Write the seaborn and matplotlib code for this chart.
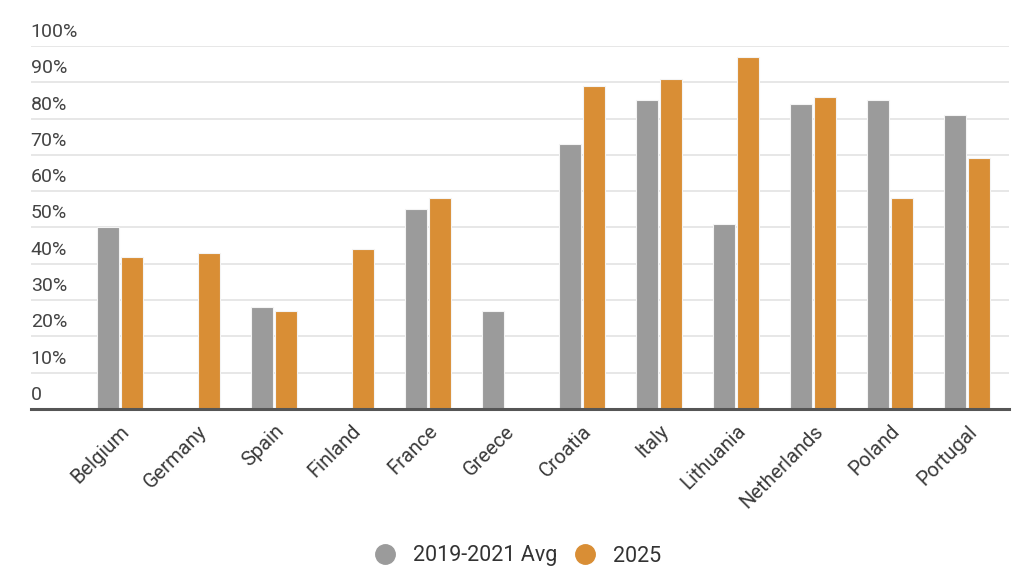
import numpy as np
import pandas as pd
import seaborn as sns
import matplotlib.pyplot as plt
import matplotlib.transforms as mtransforms
from matplotlib.lines import Line2D

countries = ['Belgium', 'Germany', 'Spain', 'Finland', 'France', 'Greece',
             'Croatia', 'Italy', 'Lithuania', 'Netherlands', 'Poland', 'Portugal']
avg_2019_2021 = [50, np.nan, 28, np.nan, 55, 27, 73, 85, 51, 84, 85, 81]
val_2025 = [42, 43, 27, 44, 58, np.nan, 89, 91, 97, 86, 58, 69]
series = ['2019-2021 Avg', '2025']
colors = ['#9b9b9b', '#d98e35']

df = pd.DataFrame({
    'country': countries * 2,
    'series': [series[0]] * len(countries) + [series[1]] * len(countries),
    'value': avg_2019_2021 + val_2025,
})

sns.set_theme(style='white')
plt.rcParams['font.family'] = ['Roboto', 'DejaVu Sans']

fig = plt.figure(figsize=(10.24, 5.81), dpi=100)
ax = fig.add_axes([0.030, 0.296, 0.955, 0.625])

sns.barplot(data=df, x='country', y='value', hue='series', order=countries,
            hue_order=series, palette=colors, saturation=1, width=0.61, gap=0.06,
            edgecolor='#f4f4f4', linewidth=0.8, legend=False, ax=ax)

ax.set_ylim(0, 100)
ax.set_xlim(-1.16, 11.54)
ax.set_xlabel('')
ax.set_ylabel('')

# grid
ax.set_yticks(range(0, 101, 10))
ax.yaxis.grid(True, color='#e3e3e3', linewidth=1.2)
ax.set_axisbelow(True)
ax.set_yticklabels(['0'] + [f'{v}%' for v in range(10, 101, 10)])
ax.tick_params(axis='y', length=0, pad=0, labelsize=14, labelcolor='#444444')
offset = mtransforms.ScaledTranslation(0, 5 / 100, fig.dpi_scale_trans)
for lab in ax.get_yticklabels():
    lab.set_ha('left')
    lab.set_va('bottom')
    lab.set_transform(lab.get_transform() + offset)

# x ticks: labels at centers, tick marks at boundaries
ax.set_xticks(range(len(countries)))
ax.set_xticklabels(countries, rotation=45, ha='right', rotation_mode='anchor')
ax.tick_params(axis='x', length=0, pad=9, labelsize=14.5, labelcolor='#3a3a3a')
ax.set_xticks(np.arange(-0.5, len(countries), 1), minor=True)
ax.tick_params(axis='x', which='minor', length=10, width=1.2, color='#555555')

for s in ['top', 'right', 'left']:
    ax.spines[s].set_visible(False)
ax.spines['bottom'].set_color('#555555')
ax.spines['bottom'].set_linewidth(2.2)

handles = [Line2D([], [], marker='o', linestyle='', markersize=14,
                  markerfacecolor=c, markeredgecolor=c) for c in colors]
fig.legend(handles, series, loc='center', bbox_to_anchor=(0.5, 1 - 556 / 581),
           ncol=2, frameon=False, fontsize=15.5, handletextpad=0.3,
           columnspacing=0.3, labelcolor='#333333')

fig.savefig('out.png', dpi=100)
